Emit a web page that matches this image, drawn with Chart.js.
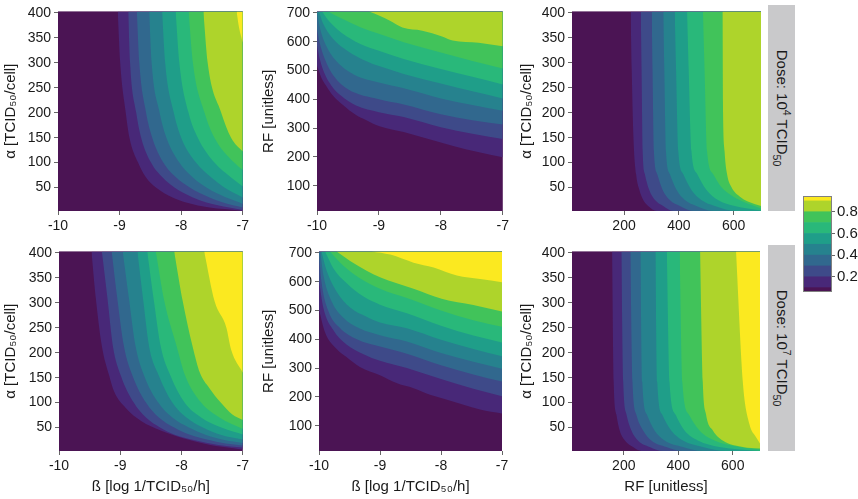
<!DOCTYPE html>
<html>
<head>
<meta charset="utf-8">
<script src="https://cdn.jsdelivr.net/npm/chart.js@4.4.1/dist/chart.umd.min.js"></script>
<style>
  body { margin: 0; background: #fff; font-family: "Liberation Sans", Arial, sans-serif; }
  #wrap { position: relative; width: 858px; height: 499px; overflow: hidden; }
  canvas { position: absolute; }
  .strip { position: absolute; left: 768px; width: 27px; height: 206px; background: #c9c9cb; }
  .strip span { position: absolute; left: 50%; top: 50%; white-space: nowrap; font-size: 15px; color: #1a1a1a;
                transform: translate(-50%, -50%) rotate(90deg); }
  .strip sup, .strip sub { font-size: 70%; }
</style>
</head>
<body>
<div id="wrap">
  <canvas id="p1"></canvas>
  <canvas id="p2"></canvas>
  <canvas id="p3"></canvas>
  <canvas id="p4"></canvas>
  <canvas id="p5"></canvas>
  <canvas id="p6"></canvas>
  <canvas id="cbar"></canvas>
  <div class="strip" style="top:5px"><span>Dose: 10<sup>4</sup> TCID<sub>50</sub></span></div>
  <div class="strip" style="top:245px"><span>Dose: 10<sup>7</sup> TCID<sub>50</sub></span></div>
</div>
<script>
// fill colours of the 10 probability bands (0-0.1 ... 0.9-1)
const levelColors = ['#4b1454', '#482878', '#3e4a89', '#31688e', '#26828e',
                     '#1f9e89', '#29b87a', '#41c35a', '#aed42b', '#fbe920'];

const betaRange = [-10, -7];
const alphaRange = [3, 403];
const rfRange = [12, 705];
const rfXRange = [10, 700];

const betaTicks = [-10, -9, -8, -7];
const alphaTicks = [50, 100, 150, 200, 250, 300, 350, 400];
const rfTicks = [100, 200, 300, 400, 500, 600, 700];
const rfXTicks = [200, 400, 600];
const cbTicks = [0.2, 0.4, 0.6, 0.8];
const cbBreaks = [0.06, 0.1, 0.2, 0.3, 0.4, 0.5, 0.6, 0.7, 0.8, 0.9, 0.945];

// contour lines 0.1, 0.2, ..., [x, y]
// dose 10^4, beta vs alpha
const d4BetaAlpha = [
  [[-9.03,403],[-8.99,300],[-8.90,200],[-8.84,150],[-8.70,100],[-8.57,70],[-8.41,50],[-8.14,30],[-7.92,20],[-7.54,10],[-7.05,4],[-7,3]],
  [[-8.86,403],[-8.83,300],[-8.73,200],[-8.65,150],[-8.49,100],[-8.30,70],[-8.11,50],[-7.81,30],[-7.59,20],[-7.22,10],[-7,5]],
  [[-8.72,403],[-8.68,300],[-8.57,200],[-8.47,150],[-8.29,100],[-8.08,70],[-7.86,50],[-7.54,30],[-7.32,20],[-7,10]],
  [[-8.52,403],[-8.48,300],[-8.35,200],[-8.24,150],[-8.03,100],[-7.81,70],[-7.59,50],[-7.27,30],[-7.05,20],[-7,17]],
  [[-8.31,403],[-8.26,300],[-8.12,200],[-8.00,150],[-7.76,100],[-7.51,70],[-7.30,50],[-7,30]],
  [[-8.09,403],[-8.03,300],[-7.88,200],[-7.73,150],[-7.46,100],[-7.19,70],[-7,52]],
  [[-7.88,403],[-7.81,300],[-7.62,200],[-7.46,150],[-7.14,100],[-7,85]],
  [[-7.64,403],[-7.57,300],[-7.35,200],[-7.19,150],[-7,122]],
  [[-7.10,403],[-7.06,370],[-7,340]]
];
// dose 10^4, beta vs RF
const d4BetaRF = [
  [[-10,517],[-9.93,475],[-9.85,446],[-9.74,412],[-9.58,380],[-9.37,345],[-9.21,328],[-8.99,306],[-8.6,286],[-8.2,262],[-7.8,238],[-7.4,217],[-7,199]],
  [[-10,587],[-9.95,535],[-9.88,490],[-9.77,448],[-9.61,412],[-9.37,378],[-9,355],[-8.6,338],[-8,303],[-7.49,280],[-7,262]],
  [[-10,644],[-9.95,590],[-9.85,528],[-9.72,478],[-9.5,435],[-9,400],[-8.6,382],[-8,348],[-7.49,327],[-7,312]],
  [[-10,700],[-9.95,645],[-9.85,585],[-9.7,535],[-9.4,485],[-9,458],[-8.6,438],[-8,403],[-7.49,380],[-7,360]],
  [[-9.97,705],[-9.9,662],[-9.75,612],[-9.5,567],[-9.2,532],[-9,515],[-8.6,488],[-8,455],[-7.49,428],[-7,403]],
  [[-9.92,705],[-9.8,670],[-9.6,630],[-9.3,592],[-9,568],[-8.6,540],[-8,505],[-7.49,478],[-7,451]],
  [[-9.82,705],[-9.6,680],[-9.3,650],[-9,627],[-8.6,598],[-8,562],[-7.49,533],[-7,507]],
  [[-9.16,705],[-8.99,690],[-8.83,673],[-8.62,649],[-8.30,638],[-7.98,618],[-7.81,604],[-7.39,596],[-7,584]]
];
// dose 10^4, RF vs alpha
const d4RFAlpha = [
  [[224,403],[228,285],[234,155],[244,77],[256,45],[270,25],[288,13],[319,3],[700,3]],
  [[261,403],[264,285],[268,123],[276,77],[292,45],[313,25],[343,13],[379,3],[700,3]],
  [[301,403],[304,285],[309,123],[321,77],[341,45],[367,25],[404,13],[452,3],[700,3]],
  [[343,403],[347,285],[353,123],[367,77],[392,45],[422,25],[464,13],[525,3],[700,3]],
  [[385,403],[390,285],[398,123],[416,77],[446,45],[482,25],[531,13],[610,3],[700,3]],
  [[430,403],[436,285],[446,123],[467,77],[501,45],[543,25],[604,13],[700,4]],
  [[488,403],[494,285],[503,123],[525,77],[555,51],[598,32],[646,19],[700,8]],
  [[559,403],[561,220],[567,123],[576,77],[592,51],[622,32],[652,22],[700,13]]
];
// dose 10^7, beta vs alpha
const d7BetaAlpha = [
  [[-9.47,403],[-9.40,310],[-9.30,213],[-9.18,154],[-9.10,122],[-8.91,89],[-8.66,63],[-8.34,44],[-7.96,28],[-7.53,15],[-7.15,8.5],[-7,6]],
  [[-9.30,403],[-9.21,310],[-9.12,213],[-8.99,154],[-8.78,100],[-8.58,70],[-8.35,50],[-8.10,35],[-7.80,25],[-7.40,15],[-7,10]],
  [[-9.14,403],[-9.05,310],[-8.94,213],[-8.80,154],[-8.58,100],[-8.37,70],[-8.12,50],[-7.85,35],[-7.55,25],[-7.28,18],[-7,14]],
  [[-8.96,403],[-8.86,310],[-8.75,213],[-8.61,154],[-8.38,100],[-8.15,70],[-7.88,50],[-7.60,35],[-7.30,25],[-7,19]],
  [[-8.72,403],[-8.63,310],[-8.53,213],[-8.37,154],[-8.15,100],[-7.92,70],[-7.65,50],[-7.35,35],[-7,26]],
  [[-8.56,403],[-8.45,303],[-8.34,213],[-8.18,154],[-7.95,100],[-7.68,70],[-7.35,50],[-7,36]],
  [[-8.42,403],[-8.28,303],[-8.08,213],[-7.94,154],[-7.68,100],[-7.38,70],[-7,47]],
  [[-8.12,403],[-7.98,303],[-7.82,213],[-7.70,160],[-7.55,130],[-7.36,100],[-7.17,76],[-7,65]],
  [[-7.63,403],[-7.46,303],[-7.27,251],[-7.19,206],[-7,160]]
];
// dose 10^7, beta vs RF
const d7BetaRF = [
  [[-10,502],[-9.9,423],[-9.71,366],[-9.55,338],[-9.33,304],[-9,275],[-8.72,247],[-8.45,230],[-8.18,207],[-7.9,190],[-7.63,173],[-7.36,156],[-7,142]],
  [[-10,604],[-9.93,510],[-9.76,430],[-9.55,382],[-9.27,348],[-9,325],[-8.56,300],[-8,262],[-7.47,228],[-7,202]],
  [[-10,694],[-9.96,600],[-9.85,500],[-9.66,440],[-9.38,400],[-9,375],[-8.56,350],[-8,310],[-7.47,278],[-7,253]],
  [[-9.98,705],[-9.93,625],[-9.79,530],[-9.6,475],[-9.33,437],[-9,414],[-8.56,392],[-8,352],[-7.47,322],[-7,298]],
  [[-9.96,705],[-9.87,635],[-9.71,565],[-9.49,510],[-9.22,478],[-9,458],[-8.56,438],[-8,398],[-7.47,366],[-7,341]],
  [[-9.9,705],[-9.76,645],[-9.55,595],[-9.27,548],[-9,520],[-8.56,490],[-8,447],[-7.47,413],[-7,389]],
  [[-9.82,705],[-9.6,655],[-9.33,612],[-9,575],[-8.56,543],[-8,500],[-7.47,466],[-7,443]],
  [[-9.71,705],[-9.49,672],[-9.22,638],[-9,615],[-8.45,575],[-7.99,541],[-7.47,519],[-7,496]],
  [[-9.14,705],[-8.83,694],[-8.45,666],[-8.12,649],[-7.74,621],[-7.36,609],[-7,598]]
];
// dose 10^7, RF vs alpha
const d7RFAlpha = [
  [[157,403],[163,141],[173,76],[185,44],[204,24],[234,11],[265,3],[700,3]],
  [[191,403],[198,141],[210,76],[228,44],[252,24],[295,11],[344,3],[700,3]],
  [[224,403],[232,141],[246,76],[271,44],[301,24],[356,11],[417,3],[700,3]],
  [[261,403],[268,141],[285,76],[313,44],[350,24],[417,11],[490,3],[700,3]],
  [[316,403],[323,141],[341,76],[374,44],[417,24],[490,11],[576,3],[700,3]],
  [[358,403],[368,141],[390,76],[423,44],[472,24],[551,11],[700,3]],
  [[405,403],[415,141],[439,76],[478,44],[533,24],[624,11],[700,6]],
  [[480,403],[490,141],[502,76],[527,44],[563,24],[637,11],[700,8]],
  [[612,403],[637,141],[661,57],[685,31],[700,18]]
];

Chart.defaults.font.family = '"Liberation Sans", Arial, sans-serif';
Chart.defaults.color = '#1a1a1a';

const alphaTitle = 'α [TCID₅₀/cell]';
const rfTitle = 'RF [unitless]';
const betaTitle = 'ß [log 1/TCID₅₀/h]';

// paints the lowest band under the contour fills
const areaBg = {
  id: 'areaBg',
  beforeDatasetsDraw(chart) {
    const a = chart.chartArea, ctx = chart.ctx;
    ctx.save();
    ctx.fillStyle = levelColors[0];
    ctx.fillRect(a.left, a.top, a.right - a.left, a.bottom - a.top);
    ctx.restore();
  }
};

function placeCanvas(id, box) {
  const cv = document.getElementById(id);
  cv.width = box.w;
  cv.height = box.h;
  cv.style.left = box.left + 'px';
  cv.style.top = box.top + 'px';
  cv.style.width = box.w + 'px';
  cv.style.height = box.h + 'px';
  return cv;
}

function axisCfg(range, ticks, title, which, size) {
  return {
    type: 'linear',
    min: range[0],
    max: range[1],
    afterBuildTicks: a => { a.ticks = ticks.map(v => ({ value: v })); },
    afterFit: a => { if (which === 'x') a.height = size; else a.width = size; },
    grid: { drawOnChartArea: false, drawTicks: true, tickLength: 4, color: '#666' },
    border: { display: false },
    ticks: { font: { size: 14 }, color: '#1a1a1a', padding: 3, maxRotation: 0, autoSkip: false,
             callback: v => String(v) },
    title: {
      display: !!title,
      text: title,
      font: { size: 15 },
      color: '#1a1a1a',
      padding: which === 'x' ? { top: 0, bottom: 3 } : { top: 2, bottom: 0 }
    }
  };
}

function panel(id, box, xr, yr, xticks, yticks, bounds, xTitle, yTitle) {
  const cv = placeCanvas(id, box);
  new Chart(cv, {
    type: 'line',
    data: {
      datasets: bounds.map((pts, k) => ({
        data: pts.map(p => ({ x: p[0], y: p[1] })),
        fill: 'end',
        backgroundColor: levelColors[k + 1],
        borderWidth: 0,
        pointRadius: 0,
        cubicInterpolationMode: 'monotone',
        order: bounds.length - k
      }))
    },
    options: {
      responsive: false,
      animation: false,
      events: [],
      layout: { autoPadding: false, padding: { left: 0, top: box.padT, right: box.padR, bottom: 0 } },
      plugins: { legend: { display: false }, tooltip: { enabled: false } },
      scales: {
        x: axisCfg(xr, xticks, xTitle, 'x', box.xH),
        y: axisCfg(yr, yticks, yTitle, 'y', box.yW)
      }
    },
    plugins: [areaBg]
  });
}

panel('p1', { left: 0, top: 0, w: 252, h: 240, yW: 58, padR: 9, padT: 5, xH: 29 },
      betaRange, alphaRange, betaTicks, alphaTicks, d4BetaAlpha, '', alphaTitle);
panel('p2', { left: 258, top: 0, w: 254, h: 240, yW: 59, padR: 8, padT: 5, xH: 29 },
      betaRange, rfRange, betaTicks, rfTicks, d4BetaRF, '', rfTitle);
panel('p3', { left: 516, top: 0, w: 250, h: 240, yW: 56, padR: 5, padT: 5, xH: 29 },
      rfXRange, alphaRange, rfXTicks, alphaTicks, d4RFAlpha, '', alphaTitle);
panel('p4', { left: 0, top: 240, w: 252, h: 259, yW: 59, padR: 7, padT: 5, xH: 48 },
      betaRange, alphaRange, betaTicks, alphaTicks, d7BetaAlpha, betaTitle, alphaTitle);
panel('p5', { left: 258, top: 240, w: 254, h: 259, yW: 61, padR: 10, padT: 5, xH: 48 },
      betaRange, rfRange, betaTicks, rfTicks, d7BetaRF, betaTitle, rfTitle);
panel('p6', { left: 516, top: 240, w: 250, h: 259, yW: 56, padR: 6, padT: 5, xH: 48 },
      rfXRange, alphaRange, rfXTicks, alphaTicks, d7RFAlpha, rfTitle, alphaTitle);

// colour bar
const frame = {
  id: 'frame',
  afterDatasetsDraw(chart) {
    const a = chart.chartArea, ctx = chart.ctx;
    ctx.save();
    ctx.strokeStyle = '#808080';
    ctx.lineWidth = 1;
    ctx.strokeRect(a.left + 0.5, a.top + 0.5, a.right - a.left - 1, a.bottom - a.top - 1);
    ctx.restore();
  }
};
const cbCanvas = placeCanvas('cbar', { left: 800, top: 185, w: 58, h: 118 });
new Chart(cbCanvas, {
  type: 'bar',
  data: {
    labels: ['p'],
    datasets: cbBreaks.slice(0, -1).map((lo, k) => ({
      data: [[lo, cbBreaks[k + 1]]],
      backgroundColor: levelColors[k],
      borderWidth: 0,
      grouped: false,
      barPercentage: 1,
      categoryPercentage: 1
    }))
  },
  options: {
    responsive: false,
    animation: false,
    events: [],
    layout: { autoPadding: false, padding: { left: 3, top: 8, right: 0, bottom: 8 } },
    plugins: { legend: { display: false }, tooltip: { enabled: false } },
    scales: {
      x: { display: false },
      y: {
        position: 'right',
        min: cbBreaks[0],
        max: cbBreaks[cbBreaks.length - 1],
        afterBuildTicks: a => { a.ticks = cbTicks.map(v => ({ value: v })); },
        afterFit: a => { a.width = 26; },
        grid: { drawOnChartArea: false, drawTicks: true, tickLength: 3, color: '#666' },
        border: { display: false },
        ticks: { font: { size: 15 }, color: '#1a1a1a', padding: 2, callback: v => String(v) }
      }
    }
  },
  plugins: [frame]
});
</script>
</body>
</html>
